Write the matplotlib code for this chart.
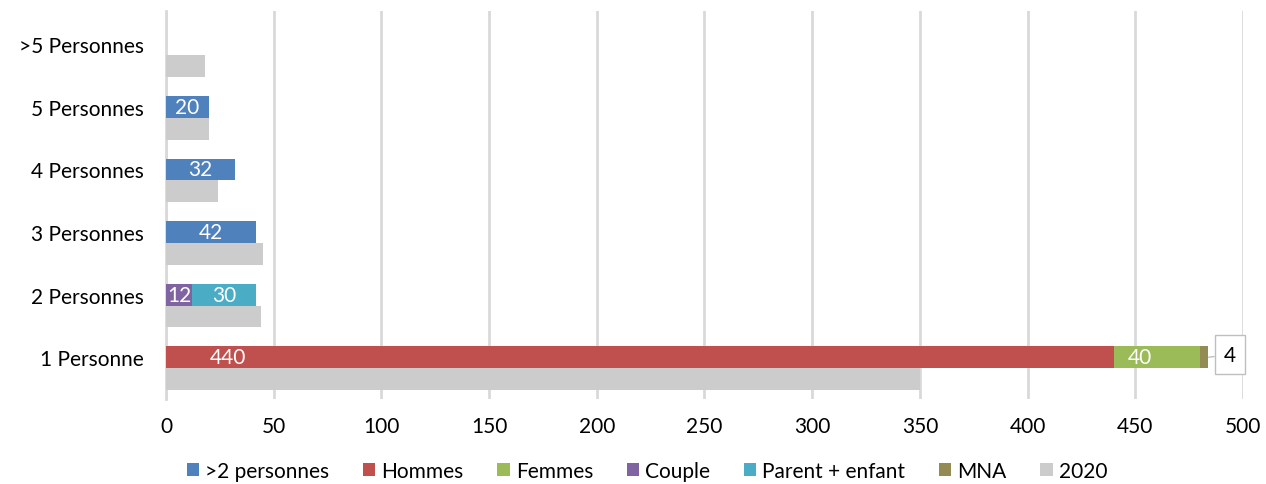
import matplotlib.pyplot as plt
import numpy as np

plt.rcParams['font.family'] = ['Lato', 'DejaVu Sans']

categories = ['1 Personne', '2 Personnes', '3 Personnes', '4 Personnes', '5 Personnes', '>5 Personnes']
plus2 = [0, 0, 42, 32, 20, 0]
hommes = [440, 0, 0, 0, 0, 0]
femmes = [40, 0, 0, 0, 0, 0]
couple = [0, 12, 0, 0, 0, 0]
parent = [0, 30, 0, 0, 0, 0]
mna = [4, 0, 0, 0, 0, 0]
y2020 = [350, 44, 45, 24, 20, 18]
xticks = [0, 50, 100, 150, 200, 250, 300, 350, 400, 450, 500]

series = [('>2 personnes', plus2, '#4F81BD'),
          ('Hommes', hommes, '#C0504D'),
          ('Femmes', femmes, '#9BBB59'),
          ('Couple', couple, '#8064A2'),
          ('Parent + enfant', parent, '#4BACC6'),
          ('MNA', mna, '#948A54')]

fig = plt.figure(figsize=(12.66, 4.85), dpi=100)
ax = fig.add_axes([0.1311, 0.175, 0.8507, 0.80])

y = np.arange(len(categories))
h = 0.35
left = np.zeros(len(categories))
for name, vals, col in series:
    vals = np.array(vals, dtype=float)
    ax.barh(y, vals, h, left=left, color=col, label=name, zorder=3)
    for i, v in enumerate(vals):
        if v <= 0 or name == 'MNA':
            continue
        xpos = left[i] + v / 2
        if name == 'Hommes':
            xpos = left[i] + 29
        if name == 'Femmes':
            xpos = left[i] + 12
        ax.text(xpos, y[i], '%d' % v, color='white', ha='center', va='center', fontsize=15, zorder=4)
    left += vals

ax.barh(y - h, y2020, h, color='#CCCCCC', label='2020', zorder=3)

# MNA label with leader line
mna_end = hommes[0] + femmes[0] + mna[0]
ax.annotate('%d' % mna[0], xy=(mna_end, y[0]), xytext=(494, y[0] + 0.04),
            ha='center', va='center', fontsize=15, color='black',
            bbox=dict(boxstyle='square,pad=0.45', fc='white', ec='#BFBFBF', lw=1),
            arrowprops=dict(arrowstyle='-', color='#BFBFBF', lw=1, shrinkA=0, shrinkB=0),
            zorder=5)

ax.set_xlim(0, 500)
ax.set_ylim(-0.67, 5.53)
ax.set_xticks(xticks)
ax.set_yticks(y)
ax.set_yticklabels(categories)
ax.tick_params(length=0, labelsize=15, colors='#000000')
ax.tick_params(axis='x', pad=12)
ax.tick_params(axis='y', pad=16)
ax.grid(axis='x', color='#D9D9D9', lw=2, zorder=0)
for s in ['top', 'right', 'bottom']:
    ax.spines[s].set_visible(False)
ax.spines['left'].set_color('#D9D9D9')
ax.spines['left'].set_linewidth(2)

handles, labels = ax.get_legend_handles_labels()
fig.legend(handles, labels, loc='center', bbox_to_anchor=(0.511, 0.027), ncol=7, frameon=False,
           fontsize=15, handlelength=0.6, handleheight=0.6, handletextpad=0.3,
           columnspacing=1.6)

fig.savefig('out.png', dpi=100)
